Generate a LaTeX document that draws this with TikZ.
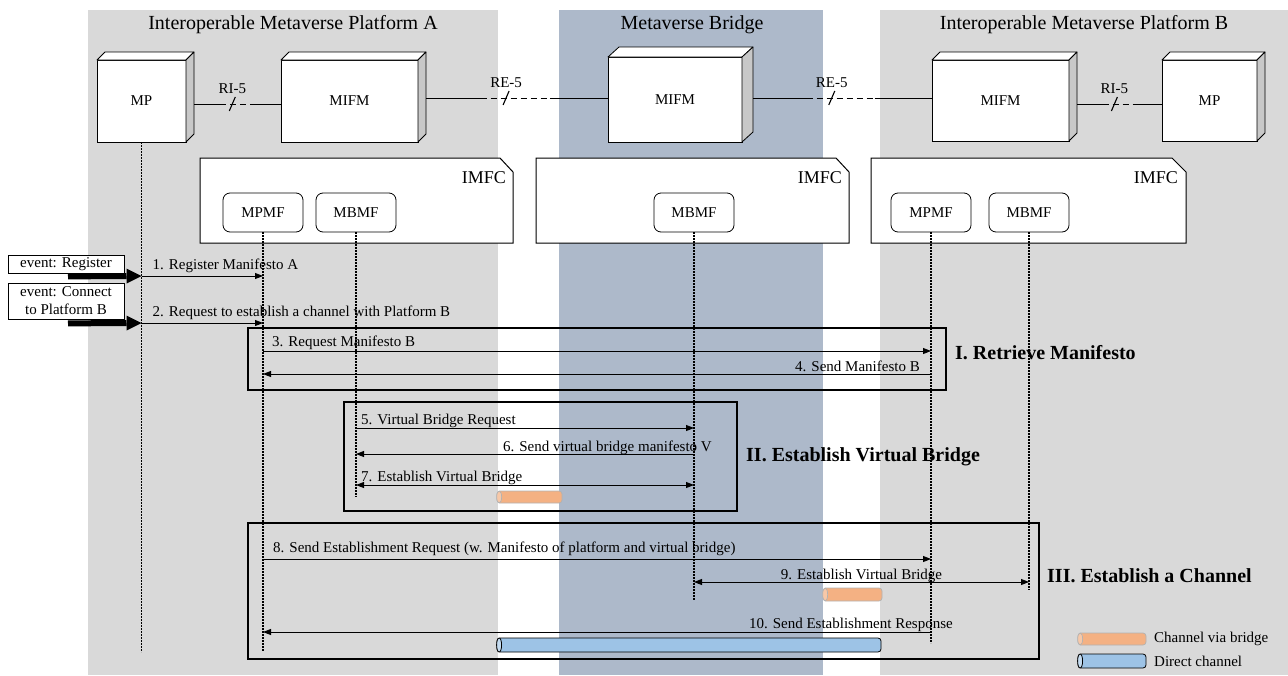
\documentclass[tikz,border=0pt]{standalone}
\usepackage{fontspec}
\setmainfont{Liberation Serif}
\usetikzlibrary{arrows.meta,calc}

\definecolor{panelgrey}{HTML}{D9D9D9}
\definecolor{bridgeblue}{HTML}{ADB9CA}
\definecolor{sidegrey}{HTML}{C8C8C8}
\definecolor{chanorange}{HTML}{F4B183}
\definecolor{chanblue}{HTML}{9DC3E6}

\begin{document}
\begin{tikzpicture}[x=1pt,y=-1pt,
  txt/.style={font=\fontsize{15}{18}\selectfont, inner sep=0pt},
  title/.style={font=\fontsize{20}{24}\selectfont, inner sep=0pt},
  imfclabel/.style={font=\fontsize{18}{22}\selectfont, inner sep=0pt, anchor=east},
  phaselabel/.style={font=\fontsize{20}{24}\selectfont\bfseries, inner sep=0pt, anchor=base west},
  front/.style={draw, fill=white, line width=0.8pt, inner sep=0pt, outer sep=0pt, txt},
  face/.style={draw, line width=0.8pt, line join=round},
  func/.style={draw, fill=white, rounded corners=7pt, line width=0.8pt, minimum width=80pt, minimum height=39pt, outer sep=0pt, txt},
  imfc/.style={draw, fill=white, line width=1pt},
  lifeline/.style={line width=1.6pt, dash pattern=on 1.6pt off 1.4pt},
  msg/.style={line width=0.9pt},
  link/.style={line width=0.9pt},
  phase/.style={draw, line width=2.8pt, inner sep=0pt},
  evbox/.style={draw, fill=white, line width=0.8pt, txt, minimum width=116pt, align=center},
  chanO/.style={draw=gray!60, fill=chanorange, line width=0.7pt, rounded corners=3pt, inner sep=0pt},
  chanB/.style={draw=black, fill=chanblue, line width=0.8pt, rounded corners=3pt, inner sep=0pt},
  >={Triangle[length=8pt,width=6pt]}
]
\useasboundingbox (0,0) rectangle (1288,675);

% platform and bridge areas
\fill[panelgrey] (88,10) rectangle (498,675);
\fill[bridgeblue] (559,10) rectangle (823,675);
\fill[panelgrey] (880,10) rectangle (1288,675);

\node[title] (titleA) at (293,25) {Interoperable Metaverse Platform A};
\node[title] (titleBr) at (692,25) {Metaverse Bridge};
\node[title] (titleB) at (1084,25) {Interoperable Metaverse Platform B};

% 3D blocks: front faces
\node[front, minimum width=89pt, minimum height=82pt] (mpA) at (141.5,101) {MP};
\node[front, minimum width=137pt, minimum height=82pt] (mifmA) at (349.5,101) {MIFM};
\node[front, minimum width=134pt, minimum height=85pt] (mifmBr) at (675,99.5) {MIFM};
\node[front, minimum width=137pt, minimum height=81pt] (mifmB) at (1000.5,100.5) {MIFM};
\node[front, minimum width=95pt, minimum height=81pt] (mpB) at (1209.5,100.5) {MP};

% 3D blocks: top and side faces
\foreach \n/\dx/\dy in {mpA/8/8, mifmA/8/8, mifmBr/11/10, mifmB/8/8, mpB/8/8} {
  \draw[face, fill=white] (\n.north west) -- ++(\dx,-\dy) -- ($(\n.north east)+(\dx,-\dy)$) -- (\n.north east) -- cycle;
  \draw[face, fill=sidegrey] (\n.north east) -- ++(\dx,-\dy) -- ($(\n.south east)+(\dx,-\dy)$) -- (\n.south east) -- cycle;
}

% reference points between blocks
\coordinate (lkA1) at ($(mpA.east)+(8,3)$);
\coordinate (lkA2) at ($(mifmA.west)+(0,3)$);
\coordinate (lkB1) at ($(mifmA.east)+(8,-3)$);
\coordinate (lkB2) at ($(mifmBr.west)+(0,-1.5)$);
\coordinate (lkC1) at ($(mifmBr.east)+(11,-1.5)$);
\coordinate (lkC2) at ($(mifmB.west)+(0,-2.5)$);
\coordinate (lkD1) at ($(mifmB.east)+(8,3.5)$);
\coordinate (lkD2) at ($(mpB.west)+(0,3.5)$);

\foreach \p/\q/\t/\nm in {lkA1/lkA2/RI-5/rpA, lkB1/lkB2/RE-5/rpB, lkC1/lkC2/RE-5/rpC, lkD1/lkD2/RI-5/rpD} {
  \draw[link] (\p) -- ($(\p)!0.3!(\q)$);
  \draw[link, dash pattern=on 6pt off 4pt] ($(\p)!0.3!(\q)$) -- ($(\p)!0.68!(\q)$);
  \draw[link] ($(\p)!0.68!(\q)$) -- (\q);
  \draw[line width=1.1pt] ($(\p)!0.44!(\q)+(-3,7)$) -- ($(\p)!0.44!(\q)+(3,-7)$);
  \node[txt, anchor=base] (\nm) at ($(\p)!0.44!(\q)+(0,-11)$) {\t};
}

% IMFC containers
\draw[imfc] (200,158) -- (500,158) -- (513,172) -- (513,243) -- (200,243) -- cycle;
\node[imfclabel] (imfcA) at (506,178) {IMFC};
\draw[imfc] (536,158) -- (836,158) -- (849,172) -- (849,243) -- (536,243) -- cycle;
\node[imfclabel] (imfcBr) at (842,178) {IMFC};
\draw[imfc] (871,158) -- (1172,158) -- (1186,172) -- (1186,243) -- (871,243) -- cycle;
\node[imfclabel] (imfcB) at (1178,178) {IMFC};

% functions
\node[func] (mpmfA) at (263,212.5) {MPMF};
\node[func] (mbmfA) at (356,212.5) {MBMF};
\node[func] (mbmfBr) at (694,212.5) {MBMF};
\node[func] (mpmfB) at (931,212.5) {MPMF};
\node[func] (mbmfB) at (1029,212.5) {MBMF};

% lifelines
\draw[lifeline] (mpA.south) -- ++(0,510);
\draw[lifeline] (mpmfA.south) -- ++(0,419);
\draw[lifeline] (mbmfA.south) -- ++(0,265);
\draw[lifeline] (mbmfBr.south) -- ++(0,368);
\draw[lifeline] (mpmfB.south) -- ++(0,411);
\draw[lifeline] (mbmfB.south) -- ++(0,358);

% phases
\node[phase, minimum width=698pt, minimum height=62pt] (phI) at (597,359) {};
\node[phase, minimum width=393pt, minimum height=109pt] (phII) at (540.5,456.5) {};
\node[phase, minimum width=791pt, minimum height=136pt] (phIII) at (643.5,591) {};
\node[phaselabel] (phIlbl) at (955,359) {I. Retrieve Manifesto};
\node[phaselabel] (phIIlbl) at (746,461) {II. Establish Virtual Bridge};
\node[phaselabel] (phIIIlbl) at (1047,582) {III. Establish a Channel};

% message rows
\coordinate (m1) at (0,276);
\coordinate (m2) at (0,323);
\coordinate (m3) at (0,351);
\coordinate (m4) at (0,374);
\coordinate (m5) at (0,428);
\coordinate (m6) at (0,454);
\coordinate (m7) at (0,485);
\coordinate (m8) at (0,559);
\coordinate (m9) at (0,582);
\coordinate (m10) at (0,632);

% triggering events
\node[evbox, minimum height=18pt] (evReg) at (66,264) {event: Register};
\node[evbox, minimum height=36pt] (evCon) at (66,301) {event: Connect\\to Platform B};
\draw[line width=6pt] ($(evReg.south)+(2,3)$) -- ($(mpA |- m1)+(-15,0)$);
\fill (mpA |- m1) -- ++(-15,-7.5) -- ++(0,15) -- cycle;
\draw[line width=6pt] ($(evCon.south)+(2,4)$) -- ($(mpA |- m2)+(-15,0)$);
\fill (mpA |- m2) -- ++(-15,-7.5) -- ++(0,15) -- cycle;

% messages
\draw[msg,->] (mpA |- m1) -- (mpmfA |- m1);
\node[txt, anchor=base west] (l1) at ($(mpA |- m1)+(11,-7)$) {1. Register Manifesto A};
\draw[msg,->] (mpA |- m2) -- (mpmfA |- m2);
\node[txt, anchor=base west] (l2) at ($(mpA |- m2)+(11,-7)$) {2. Request to establish a channel with Platform B};
\draw[msg,->] (mpmfA |- m3) -- (mpmfB |- m3);
\node[txt, anchor=base west] (l3) at ($(mpmfA |- m3)+(9,-5)$) {3. Request Manifesto B};
\draw[msg,->] (mpmfB |- m4) -- (mpmfA |- m4);
\node[txt, anchor=base east] (l4) at ($(mpmfB |- m4)+(-11,-3)$) {4. Send Manifesto B};
\draw[msg,->] (mbmfA |- m5) -- (mbmfBr |- m5);
\node[txt, anchor=base west] (l5) at ($(mbmfA |- m5)+(5,-4)$) {5. Virtual Bridge Request};
\draw[msg,->] (mbmfBr |- m6) -- (mbmfA |- m6);
\node[txt, anchor=base east] (l6) at ($(mbmfBr |- m6)+(18,-3)$) {6. Send virtual bridge manifesto V};
\draw[msg,<->] (mbmfA |- m7) -- (mbmfBr |- m7);
\node[txt, anchor=base west] (l7) at ($(mbmfA |- m7)+(5,-4)$) {7. Establish Virtual Bridge};
\draw[msg,->] (mpmfA |- m8) -- (mpmfB |- m8);
\node[txt, anchor=base west] (l8) at ($(mpmfA |- m8)+(10,-7)$) {8. Send Establishment Request (w. Manifesto of platform and virtual bridge)};
\draw[msg,<->] (mbmfBr |- m9) -- (mbmfB |- m9);
\node[txt, anchor=base] (l9) at ($($(mbmfBr |- m9)!0.5!(mbmfB |- m9)$)+(0,-3)$) {9. Establish Virtual Bridge};
\draw[msg,->] (mpmfB |- m10) -- (mpmfA |- m10);
\node[txt, anchor=base east] (l10) at ($(mpmfB |- m10)+(22,-4)$) {10. Send Establishment Response};

% channels
\node[chanO, minimum width=65pt, minimum height=12pt] (ch7) at (529.5,497) {};
\node[chanO, minimum width=59pt, minimum height=13pt] (ch9) at (852.5,594.5) {};
\node[chanB, minimum width=384pt, minimum height=14pt] (ch10) at (689,645) {};
\node[chanO, minimum width=68pt, minimum height=12pt] (legO) at (1112,639) {};
\node[chanB, minimum width=68pt, minimum height=14pt] (legB) at (1112,661) {};
\foreach \c/\ry in {ch7/6, ch9/6.5, legO/6} {
  \draw[draw=gray!60, fill=chanorange!70!white, line width=0.7pt] ($(\c.west)+(2.5,0)$) ellipse[x radius=2.5pt, y radius=\ry pt];
}
\foreach \c in {ch10, legB} {
  \draw[fill=chanblue!60!white, line width=0.8pt] ($(\c.west)+(2.5,0)$) ellipse[x radius=2.5pt, y radius=7pt];
}
\node[txt, anchor=west] (legOt) at (1154,639) {Channel via bridge};
\node[txt, anchor=west] (legBt) at (1154,661) {Direct channel};
\end{tikzpicture}
\end{document}
